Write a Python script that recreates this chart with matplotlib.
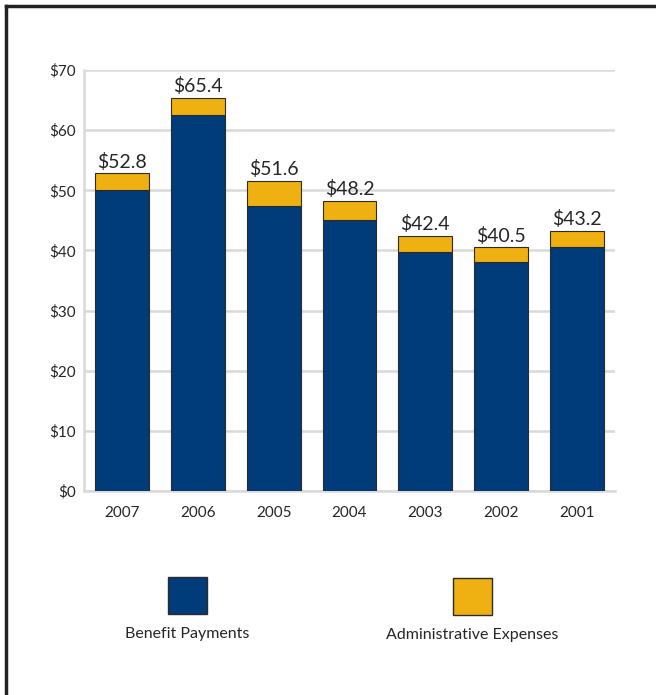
import matplotlib
matplotlib.use("Agg")
import matplotlib.pyplot as plt
from matplotlib.patches import Rectangle
from matplotlib.lines import Line2D

# fund outflows by year, $ millions
years = ["2007", "2006", "2005", "2004", "2003", "2002", "2001"]
totals = [52.8, 65.4, 51.6, 48.2, 42.4, 40.5, 43.2]
benefits = [50.0, 62.5, 47.4, 45.1, 39.7, 38.1, 40.6]
admin = [t - b for t, b in zip(totals, benefits)]

yticks = [0, 10, 20, 30, 40, 50, 60, 70]

BLUE = "#003b7a"
GOLD = "#eeb111"
EDGE = "#2b2b2b"
GRID = "#d9d9d9"
TXT = "#262626"

plt.rcParams["font.family"] = ["Lato", "DejaVu Sans"]

fig = plt.figure(figsize=(6.56, 6.95), dpi=100)
ax = fig.add_axes([84 / 656, 1 - 491 / 695, (615 - 84) / 656, (491 - 70) / 695])

x = list(range(len(years)))
ax.bar(x, benefits, width=0.71, color=BLUE, edgecolor=EDGE, linewidth=0.8, zorder=3)
ax.bar(x, admin, bottom=benefits, width=0.71, color=GOLD, edgecolor=EDGE,
       linewidth=0.8, zorder=3)

for xi, t in zip(x, totals):
    ax.annotate(f"${t:.1f}", (xi, t), xytext=(0, 2), textcoords="offset points",
                ha="center", va="bottom", fontsize=14, color=TXT)

ax.set_xlim(-0.5, len(years) - 0.5)
ax.set_ylim(0, 70)
ax.set_yticks(yticks)
ax.set_yticklabels([f"${v}" for v in yticks], fontsize=11, color=TXT)
ax.set_xticks(x)
ax.set_xticklabels(years, fontsize=11, color=TXT)
ax.tick_params(axis="both", length=0)
ax.tick_params(axis="y", pad=6)
ax.tick_params(axis="x", pad=11)
ax.yaxis.grid(True, color=GRID, linewidth=1.8, zorder=0)
ax.set_axisbelow(True)
for side in ["top", "right"]:
    ax.spines[side].set_visible(False)
for side in ["left", "bottom"]:
    ax.spines[side].set_color(GRID)
    ax.spines[side].set_linewidth(1.8)

# legend swatches below the plot
def swatch(x0, y0, color, label):
    w, h = 39 / 656, 37 / 695
    fig.patches.append(Rectangle((x0, y0), w, h, transform=fig.transFigure,
                                 facecolor=color, edgecolor=EDGE, linewidth=1.0))
    fig.text(x0 + w / 2, y0 - 13 / 695, label, ha="center", va="top",
             fontsize=11.5, color=TXT)

swatch(168 / 656, 1 - 614 / 695, BLUE, "Benefit Payments")
swatch(453 / 656, 1 - 615 / 695, GOLD, "Administrative Expenses")

# frame along top and left edges
fig.lines.append(Line2D([6 / 656, 1], [1 - 6 / 695, 1 - 6 / 695], transform=fig.transFigure,
                        color="#222222", linewidth=2.5))
fig.lines.append(Line2D([6 / 656, 6 / 656], [0, 1 - 6 / 695], transform=fig.transFigure,
                        color="#222222", linewidth=2.5))

fig.savefig("out.png", dpi=100)
